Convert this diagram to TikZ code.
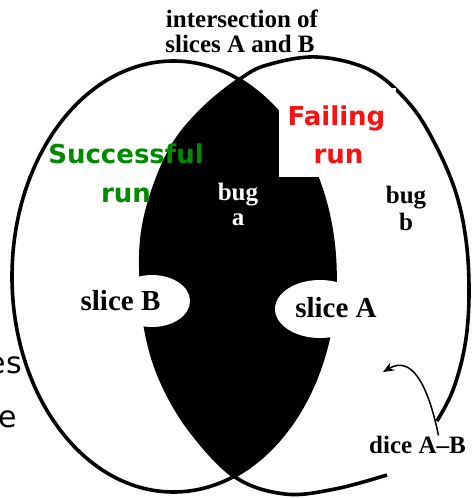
\documentclass[tikz,border=0pt]{standalone}
\usepackage{fontspec}
\setmainfont{Liberation Serif}
\newfontfamily\comicfont{DejaVu Sans}
\usetikzlibrary{arrows.meta,positioning,calc}
\definecolor{runGreen}{HTML}{008A00}
\definecolor{runRed}{HTML}{FF1010}

\begin{document}
\begin{tikzpicture}[
  x=1pt,y=-1pt,
  outline/.style={line width=3.6pt},
  lbl/.style={font=\bfseries\fontsize{25}{28}\selectfont,inner sep=0pt},
  slicelbl/.style={font=\bfseries\fontsize{29}{32}\selectfont,inner sep=0pt},
  runlbl/.style={font=\comicfont\bfseries\fontsize{26}{30}\selectfont,inner sep=0pt},
  fraglbl/.style={font=\comicfont\fontsize{30}{34}\selectfont,inner sep=0pt},
  hole/.style={fill=white},
  ptr/.style={-{Stealth[length=11pt,width=9pt]},line width=1.5pt}
]
\useasboundingbox[fill=white] (0,0) rectangle (472,498);

% slice A outline (open next to the dice label)
\path[save path=\sliceApath] plot[smooth,tension=0.6] coordinates {
  (437,421) (453,390) (465,345) (469,295) (466,240) (455,190) (433,140)
  (408,102) (370,70) (317,57) (267,65) (240,79) (205,107) (175,142)
  (155,185) (143,230) (141,275) (146,330) (161,380) (190,430) (235,477)
  (285,494) (335,489) (387,475)};
\draw[outline,use path=\sliceApath];
% slice B outline
\draw[outline] (173.5,276.5) ellipse [x radius=161.5,y radius=215.5];

% intersection of the two slices
\begin{scope}
  \clip (173.5,276.5) ellipse [x radius=161.5,y radius=215.5];
  \fill[use path=\sliceApath];
\end{scope}
\fill[hole] (152,301) ellipse [x radius=38,y radius=26];
\fill[hole] (320,309) ellipse [x radius=45,y radius=29];
\fill[white] (279,88) rectangle (396,177);

% labels
\node[lbl,anchor=base] (isect) at (242,27) {intersection of};
\node[lbl,anchor=base] (isect2) at (240,52) {slices A and B};
\node[lbl,white,anchor=base] (bugA) at (238,200) {bug};
\node[lbl,white,anchor=base] (bugAname) at (238,225) {a};
\node[lbl,anchor=base] (bugB) at (406,203) {bug};
\node[lbl,anchor=base] (bugBname) at (406,230) {b};
\node[slicelbl,anchor=base] (sliceB) at (120.5,310) {slice B};
\node[slicelbl,anchor=base] (sliceA) at (336,317) {slice A};
\node[runlbl,runGreen,anchor=base] (succ) at (126,163) {Successful};
\node[runlbl,runGreen,anchor=base] (succrun) at (126,202) {run};
\node[runlbl,runRed,anchor=base] (fail) at (336.5,125) {Failing};
\node[runlbl,runRed,anchor=base] (failrun) at (338.5,163) {run};
\node[fraglbl,anchor=base east] (frag1) at (22,373) {es};
\node[fraglbl,anchor=base east] (frag2) at (17,427) {e};

% dice pointer
\node[lbl,anchor=base] (dice) at (417.5,453) {dice A\textendash B};
\coordinate (diceTip) at (383,372);
\draw[ptr] ([xshift=21pt]dice.north) .. controls (428,385) and (412,355) .. (diceTip);
\end{tikzpicture}
\end{document}
